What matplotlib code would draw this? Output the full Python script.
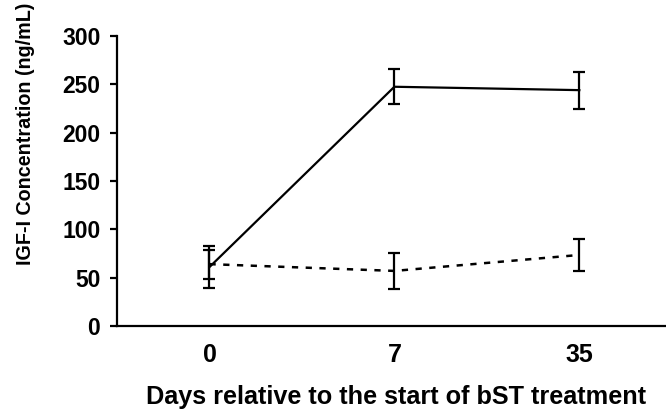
import matplotlib
matplotlib.use("Agg")
import matplotlib.pyplot as plt
import numpy as np

plt.rcParams['font.family'] = ['Liberation Sans', 'DejaVu Sans']
plt.rcParams['font.weight'] = 'bold'

days = ["0", "7", "35"]
bst_mean = [61, 247.5, 244]
bst_err = [22, 18, 19]
ctrl_mean = [64, 57, 73.5]
ctrl_err = [15, 19, 16.5]

x = np.arange(len(days))

fig = plt.figure(figsize=(6.66, 4.11), dpi=100)
ax = fig.add_axes([0.1757, 0.2068, 0.833, 0.7056])

ax.errorbar(x, bst_mean, yerr=bst_err, color="black", linewidth=1.6,
            elinewidth=1.6, capsize=4.5, capthick=1.6)
ax.errorbar(x, ctrl_mean, yerr=ctrl_err, color="black", linewidth=1.8,
            linestyle=(0, (2.5, 3)), elinewidth=1.6, capsize=4.5, capthick=1.6)

ax.set_xlim(-0.5, 2.5)
ax.set_ylim(0, 300)
ax.set_yticks([0, 50, 100, 150, 200, 250, 300])
ax.set_xticks(x)
ax.set_xticklabels(days)

for s in ["top", "right"]:
    ax.spines[s].set_visible(False)
for s in ["left", "bottom"]:
    ax.spines[s].set_linewidth(1.6)

ax.tick_params(axis="y", length=5, width=1.6, labelsize=16.5, pad=7)
ax.tick_params(axis="x", length=0, labelsize=18, pad=12)

fig.text(396.5 / 666, 1 - 404 / 411, "Days relative to the start of bST treatment",
         fontsize=18.2, fontweight="bold", ha="center", va="baseline")
fig.text(26 / 666, 1 - 134 / 411, "IGF-I Concentration (ng/mL)", rotation=90,
         fontsize=14.2, fontweight="bold", ha="center", va="center")

fig.savefig("out.png", dpi=100)
